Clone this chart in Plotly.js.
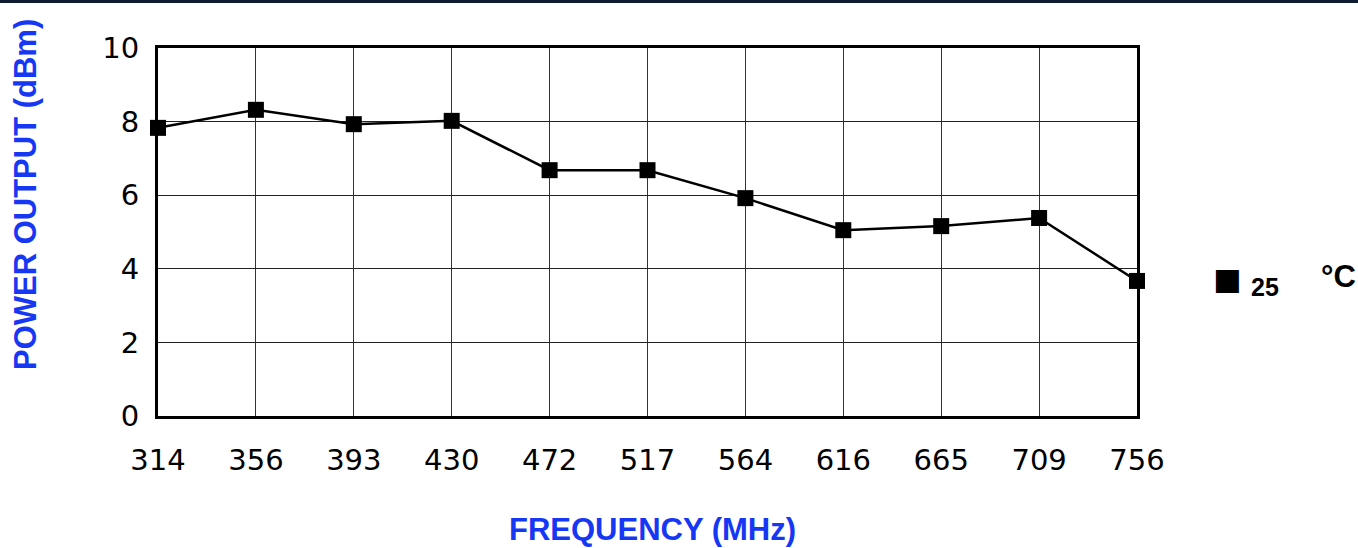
<!DOCTYPE html>
<html>
<head>
<meta charset="utf-8">
<script src="https://cdn.plot.ly/plotly-3.0.1.min.js"></script>
<style>
html,body{margin:0;padding:0;background:#fff;overflow:hidden;}
#chart{width:1358px;height:548px;}
#topbar{position:absolute;left:0;top:0;width:1358px;height:3px;background:#0d1b33;z-index:10;}
</style>
</head>
<body>
<div id="topbar"></div>
<div id="chart"></div>
<script>
const frequencies = ["314","356","393","430","472","517","564","616","665","709","756"];
const powerOutput = [7.83, 8.32, 7.93, 8.02, 6.68, 6.68, 5.92, 5.05, 5.16, 5.38, 3.67];
const yTicks = [0, 2, 4, 6, 8, 10];
const seriesName = "25";

const tickFont = {family: "DejaVu Sans, Liberation Sans, Arial", size: 29, color: "#000"};
const blue = "#1638f5";

const traces = [
  {
    x: frequencies,
    y: powerOutput,
    type: "scatter",
    mode: "lines+markers",
    line: {color: "#000", width: 2.5},
    marker: {symbol: "square", size: 16, color: "#000"},
    name: seriesName,
    showlegend: false,
    cliponaxis: false
  }
];

const layout = {
  width: 1358,
  height: 548,
  margin: {l: 158, r: 221, t: 48, b: 132},
  paper_bgcolor: "#fff",
  plot_bgcolor: "#fff",
  showlegend: false,
  xaxis: {
    type: "category",
    range: [0, frequencies.length - 1],
    tickvals: frequencies,
    ticktext: frequencies,
    tickfont: tickFont,
    ticks: "",
    showgrid: true,
    gridcolor: "#333",
    gridwidth: 1,
    showline: true,
    linecolor: "#000",
    linewidth: 3,
    mirror: true,
    zeroline: false,
    ticklabelstandoff: 16,
    title: {text: ""}
  },
  yaxis: {
    range: [0, 10],
    tickvals: yTicks,
    ticktext: yTicks.map(String),
    tickfont: tickFont,
    ticks: "",
    showgrid: true,
    gridcolor: "#222",
    gridwidth: 1,
    showline: true,
    linecolor: "#000",
    linewidth: 3,
    mirror: true,
    zeroline: false,
    ticklabelstandoff: 10,
    title: {text: ""}
  },
  annotations: [
    {
      text: "<b>FREQUENCY (MHz)</b>",
      xref: "paper", yref: "paper",
      x: 0.5046, y: -0.308,
      xanchor: "center", yanchor: "middle",
      showarrow: false,
      font: {family: "Liberation Sans, Arial", size: 31, color: blue}
    },
    {
      text: "<b>POWER OUTPUT (dBm)</b>",
      xref: "paper", yref: "paper",
      x: -0.1359, y: 0.603,
      xanchor: "center", yanchor: "middle",
      textangle: -90,
      showarrow: false,
      font: {family: "Liberation Sans, Arial", size: 31, color: blue}
    },
    {
      text: "■",
      xref: "paper", yref: "paper",
      x: 1.0916, y: 0.373,
      xanchor: "center", yanchor: "middle",
      showarrow: false,
      font: {family: "DejaVu Sans", size: 30, color: "#000"}
    },
    {
      text: "<b>" + seriesName + "</b>",
      xref: "paper", yref: "paper",
      x: 1.114, y: 0.35,
      xanchor: "left", yanchor: "middle",
      showarrow: false,
      font: {family: "Liberation Sans, Arial", size: 25, color: "#000"}
    },
    {
      text: "<b>°C</b>",
      xref: "paper", yref: "paper",
      x: 1.186, y: 0.38,
      xanchor: "left", yanchor: "middle",
      showarrow: false,
      font: {family: "Liberation Sans, Arial", size: 31, color: "#000"}
    }
  ]
};

Plotly.newPlot("chart", traces, layout, {displayModeBar: false, staticPlot: true});
</script>
</body>
</html>
